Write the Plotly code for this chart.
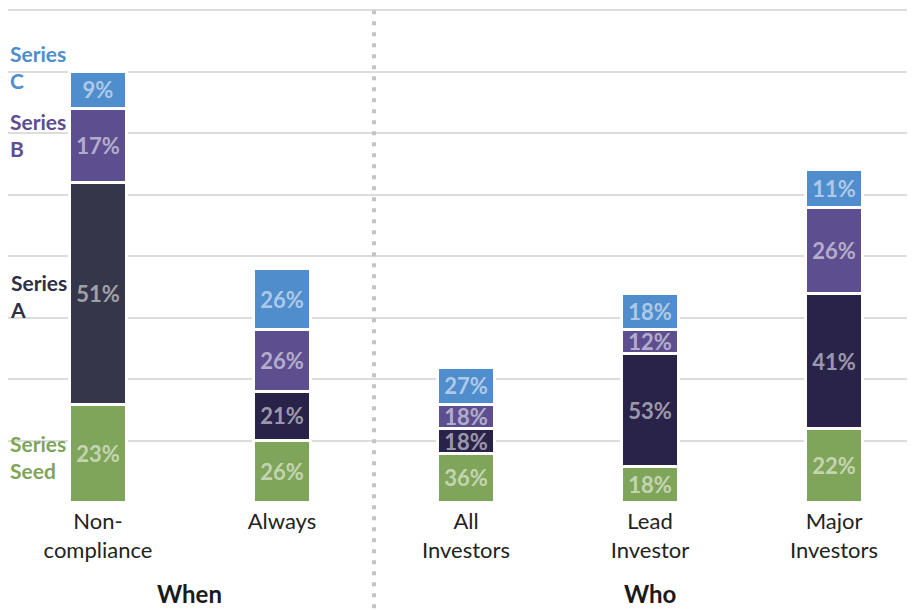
import plotly.graph_objects as go

# categories and the height of each stacked segment (axis units)
categories = ["Non-<br>compliance", "Always", "All<br>Investors", "Lead<br>Investor", "Major<br>Investors"]
seed_vals = [1.58, 1.00, 0.79, 0.58, 1.19]
a_vals = [3.62, 0.80, 0.40, 1.83, 2.20]
b_vals = [1.20, 1.00, 0.40, 0.40, 1.40]
c_vals = [0.60, 1.00, 0.60, 0.58, 0.61]

# share labels printed in the segments
seed_pct = [23, 26, 36, 18, 22]
a_pct = [51, 21, 18, 53, 41]
b_pct = [17, 26, 18, 12, 26]
c_pct = [9, 26, 27, 18, 11]

FONT = "Lato"
x_idx = list(range(len(categories)))

series = [
    ("Series Seed", seed_vals, seed_pct, "#7fa55a"),
    ("Series A", a_vals, a_pct, ["#353649", "#29234a", "#29234a", "#29234a", "#29234a"]),
    ("Series B", b_vals, b_pct, "#5d4f8f"),
    ("Series C", c_vals, c_pct, "#4f8dcd"),
]

fig = go.Figure()
for name, vals, pct, color in series:
    fig.add_trace(go.Bar(
        x=x_idx, y=vals, name=name, width=0.31,
        marker=dict(color=color, line=dict(color="white", width=3)),
        text=[f"{p}%" for p in pct],
        textposition="inside", insidetextanchor="middle",
        textangle=0, constraintext="none",
        textfont=dict(family=FONT, size=22, color="rgba(255,255,255,0.55)", weight="bold"),
        hoverinfo="skip",
    ))

# series labels on the left
left_labels = [
    ("Series<br>C", 7.07, "#4f8dcd"),
    ("Series<br>B", 5.97, "#5d4f8f"),
    ("Series<br>A", 3.35, "#2f2f45"),
    ("Series<br>Seed", 0.73, "#7fa55a"),
]
for txt, yv, col in left_labels:
    fig.add_annotation(x=0, xref="paper", y=yv, yref="y", text=txt, showarrow=False,
                       xanchor="left", yanchor="middle", align="left",
                       font=dict(family=FONT, size=21, color=col, weight="bold"))

# group labels
fig.add_annotation(x=0.5, xref="x", y=-0.185, yref="paper", text="When", showarrow=False,
                   yanchor="middle", font=dict(family=FONT, size=24, color="#1a1a1a", weight="bold"))
fig.add_annotation(x=3, xref="x", y=-0.185, yref="paper", text="Who", showarrow=False,
                   yanchor="middle", font=dict(family=FONT, size=24, color="#1a1a1a", weight="bold"))

# dotted separator
fig.add_shape(type="line", x0=1.5, x1=1.5, xref="x", y0=-0.215, y1=0.996, yref="paper",
              line=dict(color="#c4c4c4", width=4, dash="4px,7px"))

# page body has an 8px margin, so the figure is drawn 8px smaller
fig.update_layout(
    barmode="stack",
    width=907, height=602,
    margin=dict(l=0, r=0, t=0, b=108),
    plot_bgcolor="white", paper_bgcolor="white",
    showlegend=False,
    xaxis=dict(range=[-0.489, 4.44], tickvals=x_idx, ticktext=categories,
               showgrid=False, zeroline=False, showline=False, ticks="",
               ticklabelstandoff=4,
               tickfont=dict(family=FONT, size=22, color="#222222")),
    yaxis=dict(range=[0, 8.033], dtick=1, showticklabels=False, showgrid=True,
               gridcolor="#dcdcdc", gridwidth=1.5, zeroline=False, showline=False),
)

fig.write_html("out.html")
